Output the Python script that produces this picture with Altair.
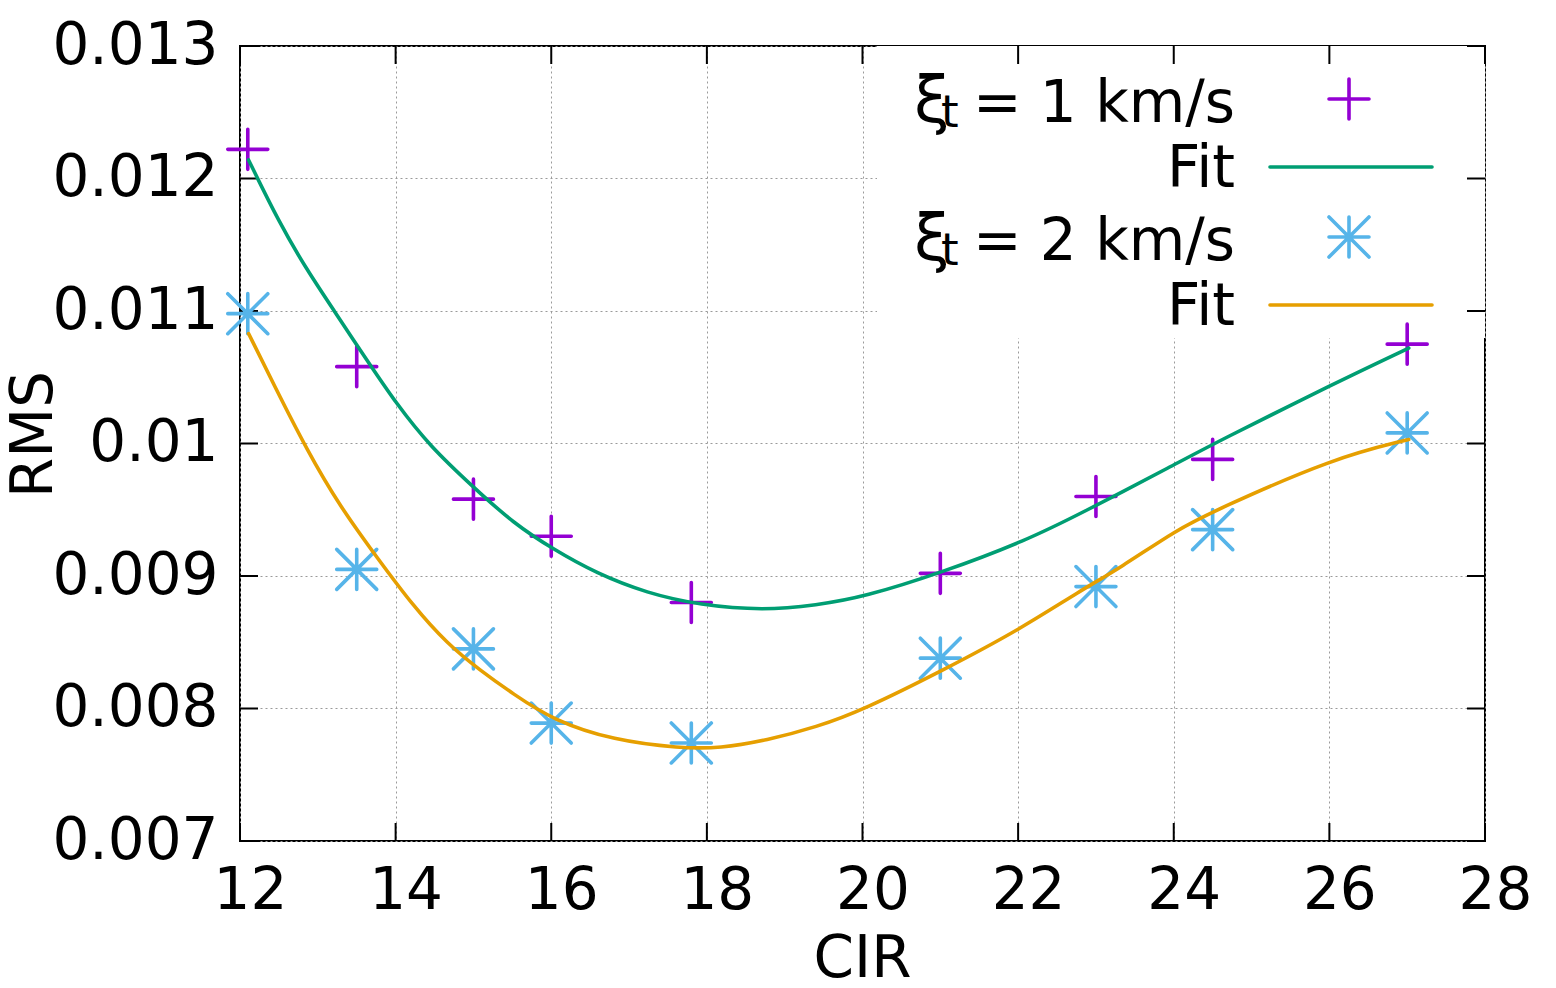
import altair as alt
import pandas as pd

FONT = "DejaVu Sans"
FS = 58

# Measured RMS for two microturbulence values
cir_1 = [12.1, 13.5, 15.0, 16.0, 17.8, 21.0, 23.0, 24.5, 27.0]
rms_1 = [0.01222, 0.01058, 0.00958, 0.00930, 0.00880, 0.00902, 0.00960, 0.00988, 0.01075]
cir_2 = [12.1, 13.5, 15.0, 16.0, 17.8, 21.0, 23.0, 24.5, 27.0]
rms_2 = [0.01098, 0.00905, 0.00845, 0.00789, 0.00774, 0.00838, 0.00892, 0.00935, 0.01008]

# Fitted curves
fit_cir_1 = [12.11, 12.51, 12.86, 13.20, 13.63, 14.01, 14.44, 15.00, 15.51, 16.03, 16.58,
             17.23, 17.91, 18.73, 19.41, 20.01, 21.04, 22.11, 22.80, 24.04, 24.55, 26.05, 27.02]
fit_rms_1 = [0.01214, 0.01166, 0.01131, 0.01101, 0.01063, 0.01030, 0.00998, 0.00967, 0.00940,
             0.00920, 0.00902, 0.00887, 0.00878, 0.00874, 0.00878, 0.00884, 0.00903, 0.00927,
             0.00947, 0.00985, 0.01001, 0.01045, 0.01072]
fit_cir_2 = [12.11, 12.43, 12.86, 13.29, 13.76, 14.23, 14.66, 15.08, 15.51, 16.03, 16.80,
             17.66, 18.17, 18.77, 19.41, 20.01, 21.04, 22.03, 22.80, 23.31, 24.04, 24.55,
             26.05, 27.02]
fit_rms_2 = [0.01083, 0.01045, 0.00995, 0.00952, 0.00914, 0.00877, 0.00849, 0.00829, 0.00811,
             0.00791, 0.00776, 0.00770, 0.00770, 0.00776, 0.00786, 0.00799, 0.00829, 0.00860,
             0.00889, 0.00906, 0.00935, 0.00950, 0.00989, 0.01003]

x_ticks = [12, 14, 16, 18, 20, 22, 24, 26, 28]
y_ticks = [0.007, 0.008, 0.009, 0.010, 0.011, 0.012, 0.013]

W, H = 1245, 795
TICK = 18

pts1 = pd.DataFrame({"cir": cir_1, "rms": rms_1})
pts2 = pd.DataFrame({"cir": cir_2, "rms": rms_2})
fit1 = pd.DataFrame({"cir": fit_cir_1, "rms": fit_rms_1})
fit2 = pd.DataFrame({"cir": fit_cir_2, "rms": fit_rms_2})
xt = pd.DataFrame({"cir": x_ticks})
yt = pd.DataFrame({"rms": y_ticks})
one = pd.DataFrame({"k": [0]})

x_scale = alt.Scale(domain=[12, 28], nice=False, zero=False)
y_scale = alt.Scale(domain=[0.007, 0.013], nice=False, zero=False)

x_axis = alt.Axis(
    values=x_ticks, grid=True, gridDash=[2, 3], gridColor="#9a9a9a", gridWidth=1,
    ticks=False, domain=False, labelFontSize=FS, labelFont=FONT, labelColor="black",
    labelPadding=21, labelOffset=10, labelFlush=False, labelOverlap=False,
    title="CIR", titleFont=FONT, titleFontSize=FS, titleFontWeight="normal",
    titleColor="black", titleX=622, titleY=135, titleAlign="center",
    titleBaseline="alphabetic",
)
y_axis = alt.Axis(
    values=y_ticks, format=".3~f", grid=True, gridDash=[2, 3], gridColor="#9a9a9a",
    gridWidth=1, ticks=False, domain=False, labelFontSize=FS, labelFont=FONT,
    labelColor="black", labelPadding=22, labelFlush=False, labelOverlap=False,
    title="RMS", titleFont=FONT, titleFontSize=FS, titleFontWeight="normal",
    titleColor="black", titleX=-206, titleY=388, titleAngle=270, titleAlign="center",
    titleBaseline="middle",
)

X = alt.X("cir:Q", scale=x_scale, axis=x_axis)
Y = alt.Y("rms:Q", scale=y_scale, axis=y_axis)

PLUS = "M-1,0L1,0M0,-1L0,1"
STAR = "M-1,0L1,0M0,-1L0,1M-1,-1L1,1M-1,1L1,-1"

PURPLE, GREEN, BLUE, ORANGE = "#9400d3", "#009e73", "#56b4e9", "#e69f00"

# white background behind the key
key_bg = alt.Chart(one).mark_rect(color="white").encode(
    x=alt.value(637), x2=alt.value(W), y=alt.value(0), y2=alt.value(292)
)

# inward tick marks on all four sides
tick_style = dict(color="black", strokeWidth=2)
ticks_bottom = alt.Chart(xt).mark_rule(**tick_style).encode(
    x=X, y=alt.value(H - TICK), y2=alt.value(H))
ticks_top = alt.Chart(xt).mark_rule(**tick_style).encode(
    x=X, y=alt.value(0), y2=alt.value(TICK))
ticks_left = alt.Chart(yt).mark_rule(**tick_style).encode(
    y=Y, x=alt.value(0), x2=alt.value(TICK))
ticks_right = alt.Chart(yt).mark_rule(**tick_style).encode(
    y=Y, x=alt.value(W - TICK), x2=alt.value(W))


def points(df, shape, color):
    return alt.Chart(df).mark_point(
        shape=shape, size=1600, filled=False, strokeWidth=3.6, color=color,
        opacity=1, strokeCap="round",
    ).encode(x=X, y=Y)


def curve(df, color):
    return alt.Chart(df).mark_line(
        color=color, strokeWidth=3.6, interpolate="basis", strokeCap="round"
    ).encode(x=X, y=Y)


def text(txt, x, y, size=FS, align="right"):
    return alt.Chart(one).mark_text(
        text=txt, align=align, baseline="alphabetic", fontSize=size, font=FONT,
        color="black",
    ).encode(x=alt.value(x), y=alt.value(y))


def key_symbol(shape, color, x, y):
    return alt.Chart(one).mark_point(
        shape=shape, size=1600, filled=False, strokeWidth=3.6, color=color,
        opacity=1, strokeCap="round",
    ).encode(x=alt.value(x), y=alt.value(y))


def key_line(color, y):
    return alt.Chart(one).mark_rule(color=color, strokeWidth=3.6, strokeCap="round").encode(
        x=alt.value(1030), x2=alt.value(1192), y=alt.value(y))


legend = [
    text("ξ", 674, 76, size=64, align="left"),
    text("t", 701, 81, size=45, align="left"),
    text("=", 733, 76, align="left"),
    text("1 km/s", 995, 76),
    key_symbol(PLUS, PURPLE, 1109, 53),
    text("Fit", 995, 141),
    key_line(GREEN, 121),
    text("ξ", 674, 214, size=64, align="left"),
    text("t", 701, 219, size=45, align="left"),
    text("=", 733, 214, align="left"),
    text("2 km/s", 995, 214),
    key_symbol(STAR, BLUE, 1109, 191),
    text("Fit", 995, 279),
    key_line(ORANGE, 259),
]

chart = alt.layer(
    key_bg,
    ticks_bottom, ticks_top, ticks_left, ticks_right,
    points(pts1, PLUS, PURPLE),
    curve(fit1, GREEN),
    points(pts2, STAR, BLUE),
    curve(fit2, ORANGE),
    *legend,
).properties(
    width=W, height=H,
    autosize=alt.AutoSizeParams(type="none"),
    padding={"left": 240, "top": 46, "right": 71, "bottom": 147},
).configure_view(stroke="black", strokeWidth=2)

chart.save("out.html", embed_options={"renderer": "svg", "actions": False})
